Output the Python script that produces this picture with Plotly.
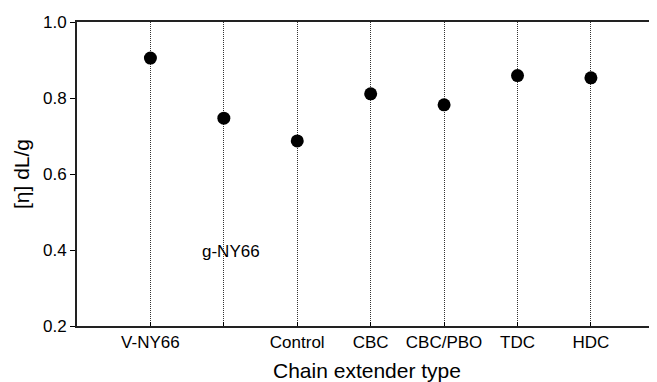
import plotly.graph_objects as go

categories = ["V-NY66", "g-NY66", "Control", "CBC", "CBC/PBO", "TDC", "HDC"]
viscosity = [0.905, 0.747, 0.687, 0.811, 0.782, 0.859, 0.853]
tick_labels = ["V-NY66", "", "Control", "CBC", "CBC/PBO", "TDC", "HDC"]
y_ticks = [0.2, 0.4, 0.6, 0.8, 1.0]

xs = list(range(len(categories)))

fig = go.Figure()
fig.add_trace(go.Scatter(
    x=xs, y=viscosity, mode="markers",
    marker=dict(color="black", size=13),
    showlegend=False,
))

fig.add_annotation(x=1, y=0.397, text="g-NY66", showarrow=False,
                   xshift=7, font=dict(size=17, color="black"))

font = "Liberation Sans, Arial, sans-serif"
fig.update_layout(
    width=649, height=374,
    margin=dict(l=69, r=0, t=14, b=56),
    paper_bgcolor="white", plot_bgcolor="white",
    font=dict(family=font, size=17, color="black"),
    xaxis=dict(
        range=[-1, 6.9], tickvals=xs, ticktext=tick_labels,
        showgrid=True, gridcolor="#333333", griddash="1px,1px", gridwidth=1,
        showline=True, linecolor="#222222", linewidth=2, mirror=True,
        ticks="inside", ticklen=4, tickcolor="black",
        zeroline=False,
        title=dict(text="Chain extender type", font=dict(size=21), standoff=13),
    ),
    yaxis=dict(
        range=[0.2, 1.0], tickvals=y_ticks, tickformat=".1f",
        showgrid=False, zeroline=False,
        showline=True, linecolor="#222222", linewidth=2,
        ticks="outside", ticklen=5, tickcolor="black",
        title=dict(text="[η] dL/g", font=dict(size=21), standoff=8),
    ),
)

fig.write_html("out.html")
